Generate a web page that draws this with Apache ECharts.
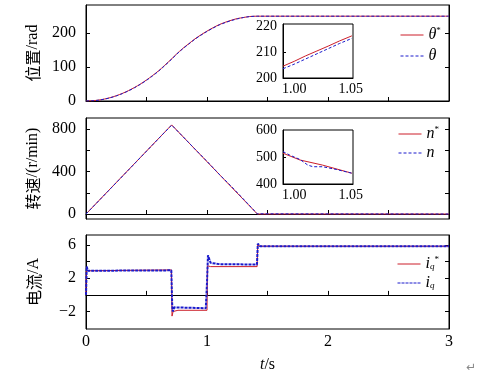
<!DOCTYPE html>
<html>
<head>
<meta charset="utf-8">
<script src="https://cdn.jsdelivr.net/npm/echarts@6/dist/echarts.min.js"></script>
<style>
  html, body { margin: 0; padding: 0; background: #fff; }
  #main { width: 492px; height: 378px; }
</style>
</head>
<body>
<div id="main"></div>
<script>
// position (rad)
const posT   = [0, 0.05, 0.1, 0.15, 0.2, 0.25, 0.3, 0.35, 0.4, 0.45, 0.5, 0.55, 0.6, 0.65, 0.71, 0.75, 0.8, 0.85, 0.9, 0.95, 1.0, 1.05, 1.1, 1.15, 1.2, 1.25, 1.3, 1.35, 1.42, 3.0];
const posRef = [0, 0.6, 2.5, 5.6, 9.9, 15.5, 22.3, 30.4, 39.7, 50.2, 62, 75, 89, 105, 125, 139, 155, 169, 183, 195, 206, 216, 225, 232, 238, 243, 246, 249, 250, 250];
const posAct = [0, 0.5, 2.3, 5.3, 9.5, 15.0, 21.7, 29.7, 38.9, 49.3, 61, 74, 88, 104, 124, 138, 154, 168, 182, 194, 205, 215, 224, 231, 237, 242, 246, 248.7, 250, 250];

// position zoom
const ins1T   = [0.99, 1.0, 1.01, 1.02, 1.03, 1.04, 1.051];
const ins1Ref = [204.6, 206.5, 208.6, 210.5, 212.4, 214.4, 216.4];
const ins1Act = [203.6, 205.4, 207.4, 209.4, 211.4, 213.4, 215.4];

// speed (r/min)
const spdTRef = [0, 0.708, 1.416, 3];
const spdRef  = [0, 840, 0, 0];
const spdTAct = [0, 0.2, 0.4, 0.6, 0.708, 0.8, 0.9, 1.0, 1.1, 1.2, 1.3, 1.416, 1.43, 3];
const spdAct  = [0, 236, 473, 711, 838, 731, 612, 497, 376, 262, 142, 2, 0, 0];

// speed zoom
const ins2TRef = [0.99, 1.005, 1.025, 1.051];
const ins2Ref  = [514, 489, 470, 440];
const ins2TAct = [0.99, 0.996, 1.005, 1.012, 1.0165, 1.025, 1.037, 1.051];
const ins2Act  = [520, 507, 491, 470, 464, 464, 454, 440];

// current (A)
const curTRef = [0, 0.003, 0.012, 0.706, 0.711, 0.72, 0.76, 1.0, 1.004, 1.03, 1.414, 1.419, 1.44, 3];
const curRef  = [0, 2.9, 3.0, 3.0, -2.55, -2.0, -1.85, -1.85, 3.5, 3.4, 3.4, 6.0, 5.85, 5.85];
const curTAct = [0, 0.006, 0.015, 0.705, 0.712, 0.716, 0.73, 0.99, 1.0, 1.008, 1.03, 1.1, 1.413, 1.42, 1.44, 3];
const curAct  = [0, 3.4, 2.9, 2.95, -1.0, -2.0, -1.5, -1.6, 1.5, 4.75, 3.85, 3.7, 3.65, 6.15, 5.85, 5.85];

const tLabels = [0, 1, 2, 3];
const tTicks = [0.5, 1, 1.5, 2, 2.5];

const RED = '#cc1f2a';
const BLUE = '#1a1acc';
const SERIF = 'Liberation Serif';
const CJK = 'Noto Sans CJK SC';

function pairs(xs, ys) {
  return xs.map((x, i) => [x, ys[i]]);
}

function mainX(idx, showLabels) {
  return {
    type: 'value', gridIndex: idx, min: 0, max: 3,
    axisLine: { show: true, lineStyle: { color: '#000', width: 1 } },
    axisTick: { show: true, inside: true, length: 4, customValues: tTicks, lineStyle: { color: '#000' } },
    axisLabel: { show: showLabels, customValues: tLabels, margin: 5, color: '#000', fontFamily: SERIF, fontSize: 16 },
    splitLine: { show: false }
  };
}

function mainY(idx, min, max, labels, ticks, name) {
  return {
    type: 'value', gridIndex: idx, min: min, max: max,
    name: name, nameLocation: 'middle', nameRotate: 90, nameGap: 44,
    nameTextStyle: {
      color: '#000', fontFamily: SERIF, fontSize: 16,
      rich: { cn: { fontFamily: CJK, fontSize: 16, color: '#000' } }
    },
    axisLine: { show: true, lineStyle: { color: '#000', width: 1 } },
    axisTick: { show: true, inside: true, length: 4, customValues: ticks, lineStyle: { color: '#000' } },
    axisLabel: {
      customValues: labels, margin: 10, color: '#000', fontFamily: SERIF, fontSize: 16,
      formatter: v => String(v).replace('-', '\u2212')
    },
    splitLine: { show: false }
  };
}

function rightY(idx, min, max, ticks) {
  return {
    type: 'value', gridIndex: idx, min: min, max: max, position: 'right',
    axisLine: { show: true, lineStyle: { color: '#000', width: 1 } },
    axisTick: { show: true, inside: true, length: 4, customValues: ticks, lineStyle: { color: '#000' } },
    axisLabel: { show: false },
    splitLine: { show: false }
  };
}

function insetX(idx) {
  return {
    type: 'value', gridIndex: idx, min: 0.99, max: 1.052,
    axisLine: { show: true, lineStyle: { color: '#000', width: 1 } },
    axisTick: { show: false },
    axisLabel: { customValues: [1.0, 1.05], margin: 4, color: '#000', fontFamily: SERIF, fontSize: 14,
      formatter: v => v.toFixed(2) },
    splitLine: { show: false }
  };
}

function insetY(idx, min, max, labels, ticks) {
  return {
    type: 'value', gridIndex: idx, min: min, max: max,
    axisLine: { show: true, lineStyle: { color: '#000', width: 1 } },
    axisTick: { show: true, inside: true, length: 3, customValues: ticks, lineStyle: { color: '#000' } },
    axisLabel: { customValues: labels, margin: 6, color: '#000', fontFamily: SERIF, fontSize: 14 },
    splitLine: { show: false }
  };
}

function line(name, xi, yi, data, color, dashed, smooth) {
  return {
    name: name, type: 'line', xAxisIndex: xi, yAxisIndex: yi,
    data: data, symbol: 'none', smooth: smooth ? 0.3 : false,
    lineStyle: { color: color, width: 1, type: dashed ? [3, 2] : 'solid' },
    itemStyle: { color: color },
    animation: false, z: dashed ? 3 : 2
  };
}

function legendAt(names, left, top, gap) {
  return {
    data: names, left: left, top: top, orient: 'vertical', padding: 0,
    itemWidth: 23, itemHeight: 13, itemGap: gap, selectedMode: false,
    itemStyle: { opacity: 0 },
    lineStyle: { width: 1 },
    textStyle: {
      fontFamily: SERIF, fontSize: 16, color: '#000',
      rich: {
        it: { fontFamily: SERIF, fontStyle: 'italic', fontSize: 16, color: '#000' },
        sup: { fontFamily: SERIF, fontSize: 9, color: '#000', padding: [0, 0, 9, 0] },
        sub: { fontFamily: SERIF, fontStyle: 'italic', fontSize: 9, color: '#000', padding: [6, 0, 0, 0] }
      }
    },
    formatter: function (n) {
      const map = {
        'θ*': '{it|θ}{sup|*}', 'θ': '{it|θ}',
        'n*': '{it|n}{sup|*}', 'n': '{it|n}',
        'iq*': '{it|i}{sub|q}{sup|*}', 'iq': '{it|i}{sub|q}'
      };
      return map[n];
    }
  };
}

const chart = echarts.init(document.getElementById('main'), null, { renderer: 'canvas' });

chart.setOption({
  backgroundColor: '#fff',
  animation: false,
  grid: [
    { left: 86, top: 5, width: 363, height: 96, show: true, borderColor: '#000', borderWidth: 1 },
    { left: 86, top: 118, width: 363, height: 101, show: true, borderColor: '#000', borderWidth: 1 },
    { left: 86, top: 235, width: 363, height: 94, show: true, borderColor: '#000', borderWidth: 1 },
    { left: 283, top: 24, width: 70, height: 54, show: true, borderColor: '#000', borderWidth: 1, backgroundColor: '#fff' },
    { left: 283, top: 130, width: 70, height: 54, show: true, borderColor: '#000', borderWidth: 1, backgroundColor: '#fff' }
  ],
  xAxis: [
    mainX(0, false),
    mainX(1, false),
    Object.assign(mainX(2, true), {
      name: '{i|t}/s', nameLocation: 'middle', nameGap: 28,
      nameTextStyle: { color: '#000', fontFamily: SERIF, fontSize: 16,
        rich: { i: { fontFamily: SERIF, fontStyle: 'italic', fontSize: 16, color: '#000' } } }
    }),
    insetX(3),
    insetX(4)
  ],
  yAxis: [
    mainY(0, 0, 283, [0, 100, 200], [100, 200], '{cn|位置}/rad'),
    mainY(1, -47, 905, [0, 400, 800], [200, 400, 600, 800], '{cn|转速}/(r/min)'),
    mainY(2, -4.1, 7.2, [-2, 2, 6], [-2, 0, 2, 4, 6], '{cn|电流}/A'),
    insetY(3, 200, 221, [200, 210, 220], [210]),
    insetY(4, 400, 600, [400, 500, 600], [500]),
    rightY(0, 0, 283, [100, 200]),
    rightY(1, -47, 905, [200, 400, 600, 800]),
    rightY(2, -4.1, 7.2, [-2, 0, 2, 4, 6])
  ],
  legend: [
    legendAt(['θ*', 'θ'], 400, 26, 5),
    legendAt(['n*', 'n'], 398, 125, 3),
    legendAt(['iq*', 'iq'], 397, 255, 3)
  ],
  series: [
    line('θ*', 0, 0, pairs(posT, posRef), RED, false, true),
    line('θ', 0, 0, pairs(posT, posAct), BLUE, true, true),
    line('θ*', 3, 3, pairs(ins1T, ins1Ref), RED, false, false),
    line('θ', 3, 3, pairs(ins1T, ins1Act), BLUE, true, false),
    line('n*', 1, 1, pairs(spdTRef, spdRef), RED, false, false),
    line('n', 1, 1, pairs(spdTAct, spdAct), BLUE, true, false),
    line('n*', 4, 4, pairs(ins2TRef, ins2Ref), RED, false, false),
    line('n', 4, 4, pairs(ins2TAct, ins2Act), BLUE, true, false),
    line('iq*', 2, 2, pairs(curTRef, curRef), RED, false, false),
    Object.assign(line('iq', 2, 2, pairs(curTAct, curAct), BLUE, true, false),
      { lineStyle: { color: BLUE, width: 2, type: [3, 1] } })
  ],
  graphic: [
    { type: 'text', left: 466, top: 362, style: { text: '\u21b5', fill: '#888', font: '12px DejaVu Sans' } }
  ]
});
</script>
</body>
</html>
